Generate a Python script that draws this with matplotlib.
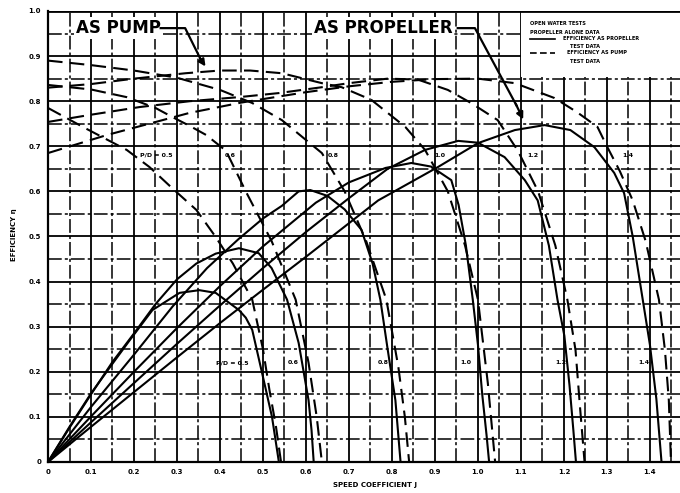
import numpy as np
import matplotlib
matplotlib.use('Agg')
import matplotlib.pyplot as plt
from matplotlib.patches import Rectangle

# pitch ratios
pd_values = [0.5, 0.6, 0.8, 1.0, 1.2, 1.4]

# efficiency as propeller (solid)
prop_j_05 = [0, 0.05, 0.10, 0.15, 0.19, 0.243, 0.306, 0.352, 0.39, 0.444, 0.46, 0.475, 0.498, 0.521, 0.537]
prop_eta_05 = [0, 0.078, 0.152, 0.218, 0.27, 0.337, 0.375, 0.381, 0.375, 0.337, 0.32, 0.293, 0.197, 0.10, 0]
prop_j_06 = [0, 0.05, 0.10, 0.15, 0.20, 0.25, 0.30, 0.345, 0.39, 0.444, 0.49, 0.52, 0.556, 0.583, 0.606, 0.613, 0.618]
prop_eta_06 = [0, 0.076, 0.150, 0.222, 0.285, 0.35, 0.405, 0.44, 0.462, 0.474, 0.463, 0.43, 0.36, 0.264, 0.137, 0.07, 0]
prop_j_08 = [0, 0.1, 0.2, 0.29, 0.37, 0.444, 0.50, 0.544, 0.583, 0.61, 0.65, 0.69, 0.729, 0.755, 0.773, 0.79, 0.808, 0.82]
prop_eta_08 = [0, 0.122, 0.238, 0.345, 0.43, 0.495, 0.54, 0.568, 0.600, 0.603, 0.59, 0.56, 0.515, 0.44, 0.36, 0.25, 0.137, 0]
prop_j_10 = [0, 0.1, 0.2, 0.3, 0.4, 0.5, 0.623, 0.7, 0.785, 0.845, 0.891, 0.938, 0.955, 0.972, 0.988, 1.0, 1.01, 1.02, 1.026]
prop_eta_10 = [0, 0.101, 0.2, 0.297, 0.39, 0.478, 0.575, 0.62, 0.652, 0.663, 0.655, 0.625, 0.57, 0.48, 0.36, 0.26, 0.15, 0.06, 0]
prop_j_12 = [0, 0.1, 0.2, 0.3, 0.4, 0.5, 0.6, 0.7, 0.79, 0.877, 0.954, 1.0, 1.062, 1.109, 1.139, 1.165, 1.185, 1.201, 1.213, 1.222, 1.228]
prop_eta_12 = [0, 0.088, 0.175, 0.262, 0.347, 0.43, 0.51, 0.585, 0.65, 0.692, 0.712, 0.708, 0.676, 0.625, 0.58, 0.48, 0.36, 0.28, 0.17, 0.07, 0]
prop_j_14 = [0, 0.1, 0.2, 0.3, 0.4, 0.5, 0.6, 0.768, 0.907, 1.0, 1.086, 1.155, 1.215, 1.271, 1.317, 1.34, 1.36, 1.38, 1.40, 1.415, 1.427]
prop_eta_14 = [0, 0.078, 0.155, 0.232, 0.308, 0.382, 0.455, 0.58, 0.654, 0.707, 0.736, 0.747, 0.736, 0.698, 0.641, 0.596, 0.50, 0.38, 0.26, 0.14, 0]

# efficiency as pump (dashed)
pump_j_05 = [0, 0.081, 0.183, 0.236, 0.289, 0.345, 0.39, 0.43, 0.475, 0.50, 0.515, 0.53, 0.542]
pump_eta_05 = [0.785, 0.743, 0.692, 0.654, 0.607, 0.559, 0.499, 0.44, 0.36, 0.25, 0.16, 0.08, 0]
pump_j_06 = [0, 0.1, 0.183, 0.25, 0.289, 0.33, 0.368, 0.414, 0.46, 0.52, 0.576, 0.606, 0.625, 0.637]
pump_eta_06 = [0.836, 0.826, 0.809, 0.785, 0.765, 0.745, 0.725, 0.69, 0.60, 0.49, 0.36, 0.22, 0.10, 0]
pump_j_08 = [0, 0.1, 0.2, 0.3, 0.4, 0.475, 0.544, 0.6, 0.637, 0.69, 0.74, 0.787, 0.815, 0.83, 0.84]
pump_eta_08 = [0.89, 0.88, 0.868, 0.852, 0.825, 0.796, 0.758, 0.714, 0.685, 0.60, 0.49, 0.36, 0.21, 0.10, 0]
pump_j_10 = [0, 0.1, 0.2, 0.32, 0.4, 0.47, 0.544, 0.637, 0.683, 0.752, 0.831, 0.877, 0.93, 0.97, 1.0, 1.023, 1.04]
pump_eta_10 = [0.83, 0.838, 0.85, 0.862, 0.868, 0.868, 0.862, 0.84, 0.831, 0.803, 0.743, 0.692, 0.60, 0.48, 0.36, 0.175, 0]
pump_j_12 = [0, 0.1, 0.213, 0.33, 0.444, 0.537, 0.637, 0.7, 0.79, 0.86, 0.93, 0.984, 1.046, 1.093, 1.14, 1.18, 1.208, 1.227, 1.238, 1.248]
pump_eta_12 = [0.754, 0.77, 0.787, 0.80, 0.809, 0.818, 0.831, 0.84, 0.85, 0.848, 0.825, 0.796, 0.758, 0.69, 0.60, 0.48, 0.36, 0.248, 0.115, 0]
pump_j_14 = [0, 0.137, 0.329, 0.45, 0.6, 0.7, 0.8, 0.9, 1.0, 1.086, 1.178, 1.23, 1.278, 1.30, 1.33, 1.36, 1.39, 1.421, 1.435, 1.444, 1.449]
pump_eta_14 = [0.685, 0.725, 0.774, 0.797, 0.82, 0.833, 0.843, 0.849, 0.85, 0.84, 0.807, 0.776, 0.743, 0.70, 0.645, 0.58, 0.49, 0.36, 0.248, 0.137, 0]

prop_curves = [(prop_j_05, prop_eta_05), (prop_j_06, prop_eta_06), (prop_j_08, prop_eta_08),
               (prop_j_10, prop_eta_10), (prop_j_12, prop_eta_12), (prop_j_14, prop_eta_14)]
pump_curves = [(pump_j_05, pump_eta_05), (pump_j_06, pump_eta_06), (pump_j_08, pump_eta_08),
               (pump_j_10, pump_eta_10), (pump_j_12, pump_eta_12), (pump_j_14, pump_eta_14)]

# where the P/D labels sit
top_label_j = [0.253, 0.423, 0.663, 0.912, 1.128, 1.349]
bottom_label_j = [0.428, 0.57, 0.779, 0.972, 1.193, 1.386]

x_ticks = [0, 0.1, 0.2, 0.3, 0.4, 0.5, 0.6, 0.7, 0.8, 0.9, 1.0, 1.1, 1.2, 1.3, 1.4]
x_ticklabels = ['0', '0.1', '0.2', '0.3', '0.4', '0.5', '0.6', '0.7', '0.8', '0.9', '1.0', '1.1', '1.2', '1.3', '1.4']
y_ticks = [0, 0.1, 0.2, 0.3, 0.4, 0.5, 0.6, 0.7, 0.8, 0.9, 1.0]
y_ticklabels = ['0', '0.1', '0.2', '0.3', '0.4', '0.5', '0.6', '0.7', '0.8', '0.9', '1.0']

fig = plt.figure(figsize=(6.8, 4.93), dpi=100)
ax = fig.add_axes([0.0706, 0.0629, 0.9294, 0.9148])
ax.set_xlim(0, 1.47)
ax.set_ylim(0, 1.0)

# heavy graph-paper grid
for v in np.arange(0, 1.47, 0.1):
    ax.axvline(v, color='k', lw=1.3, zorder=1)
    ax.axvline(v + 0.05, color='k', lw=1.1, dashes=(9, 2, 2, 2), zorder=1)
for v in np.arange(0, 1.01, 0.1):
    ax.axhline(v, color='k', lw=1.3, zorder=1)
    if v < 0.95:
        ax.axhline(v + 0.05, color='k', lw=1.1, dashes=(9, 2, 2, 2), zorder=1)

# blank box for legend in the top right
ax.add_patch(Rectangle((1.1, 0.853), 0.4, 0.145, facecolor='white', edgecolor='none', zorder=2))
ax.axhline(1.0, color='k', lw=2, zorder=5)

for j, e in prop_curves:
    ax.plot(j, e, color='k', lw=1.5, zorder=4)
for j, e in pump_curves:
    ax.plot(j, e, color='k', lw=1.5, dashes=(7, 3.5), zorder=4)

for i, pdv in enumerate(pd_values):
    lab = 'P/D = %.1f' % pdv if i == 0 else '%.1f' % pdv
    ax.text(top_label_j[i], 0.68, lab, fontsize=4.5, weight='bold', ha='center', va='center', zorder=6)
    ax.text(bottom_label_j[i], 0.22, lab, fontsize=4.5, weight='bold', ha='center', va='center', zorder=6)

# annotations
ax.text(0.163, 0.962, 'AS PUMP', fontsize=12, weight='heavy', ha='center', va='center', zorder=6,
        bbox=dict(facecolor='white', edgecolor='none', pad=1.5))
ax.plot([0.262, 0.319, 0.355], [0.962, 0.962, 0.893], color='k', lw=1.6, zorder=6)
ax.annotate('', xy=(0.37, 0.872), xytext=(0.35, 0.90),
            arrowprops=dict(arrowstyle='-|>', color='k', lw=1.6, mutation_scale=10), zorder=6)
ax.text(0.779, 0.962, 'AS PROPELLER', fontsize=12, weight='heavy', ha='center', va='center', zorder=6,
        bbox=dict(facecolor='white', edgecolor='none', pad=1.5))
ax.plot([0.953, 0.993, 1.09], [0.962, 0.962, 0.79], color='k', lw=1.6, zorder=6)
ax.annotate('', xy=(1.108, 0.754), xytext=(1.085, 0.80),
            arrowprops=dict(arrowstyle='-|>', color='k', lw=1.6, mutation_scale=10), zorder=6)

# legend text
lkw = dict(fontsize=3.6, weight='bold', ha='left', va='center', zorder=6)
ax.text(1.121, 0.973, 'OPEN WATER TESTS', **lkw)
ax.text(1.121, 0.953, 'PROPELLER ALONE DATA', **lkw)
ax.plot([1.121, 1.179], [0.938, 0.938], color='k', lw=1.2, zorder=6)
ax.text(1.198, 0.938, 'EFFICIENCY AS PROPELLER', **lkw)
ax.text(1.214, 0.922, 'TEST DATA', **lkw)
ax.plot([1.121, 1.179], [0.907, 0.907], color='k', lw=1.2, dashes=(4, 2), zorder=6)
ax.text(1.207, 0.907, 'EFFICIENCY AS PUMP', **lkw)
ax.text(1.214, 0.889, 'TEST DATA', **lkw)

ax.set_xticks(x_ticks)
ax.set_xticklabels(x_ticklabels, fontsize=5, weight='bold')
ax.set_yticks(y_ticks)
ax.set_yticklabels(y_ticklabels, fontsize=5, weight='bold')
ax.tick_params(length=0, pad=5)
for s in ['top', 'right']:
    ax.spines[s].set_visible(False)
for s in ['left', 'bottom']:
    ax.spines[s].set_linewidth(1.6)

fig.text(14 / 680, 1 - 235 / 493, 'EFFICIENCY \u03b7', rotation=90, fontsize=5, weight='bold', ha='center', va='center')
fig.text(375 / 680, 8 / 493, 'SPEED COEFFICIENT J', fontsize=5, weight='bold', ha='center', va='center')

fig.savefig('out.png', dpi=100, facecolor='white')
